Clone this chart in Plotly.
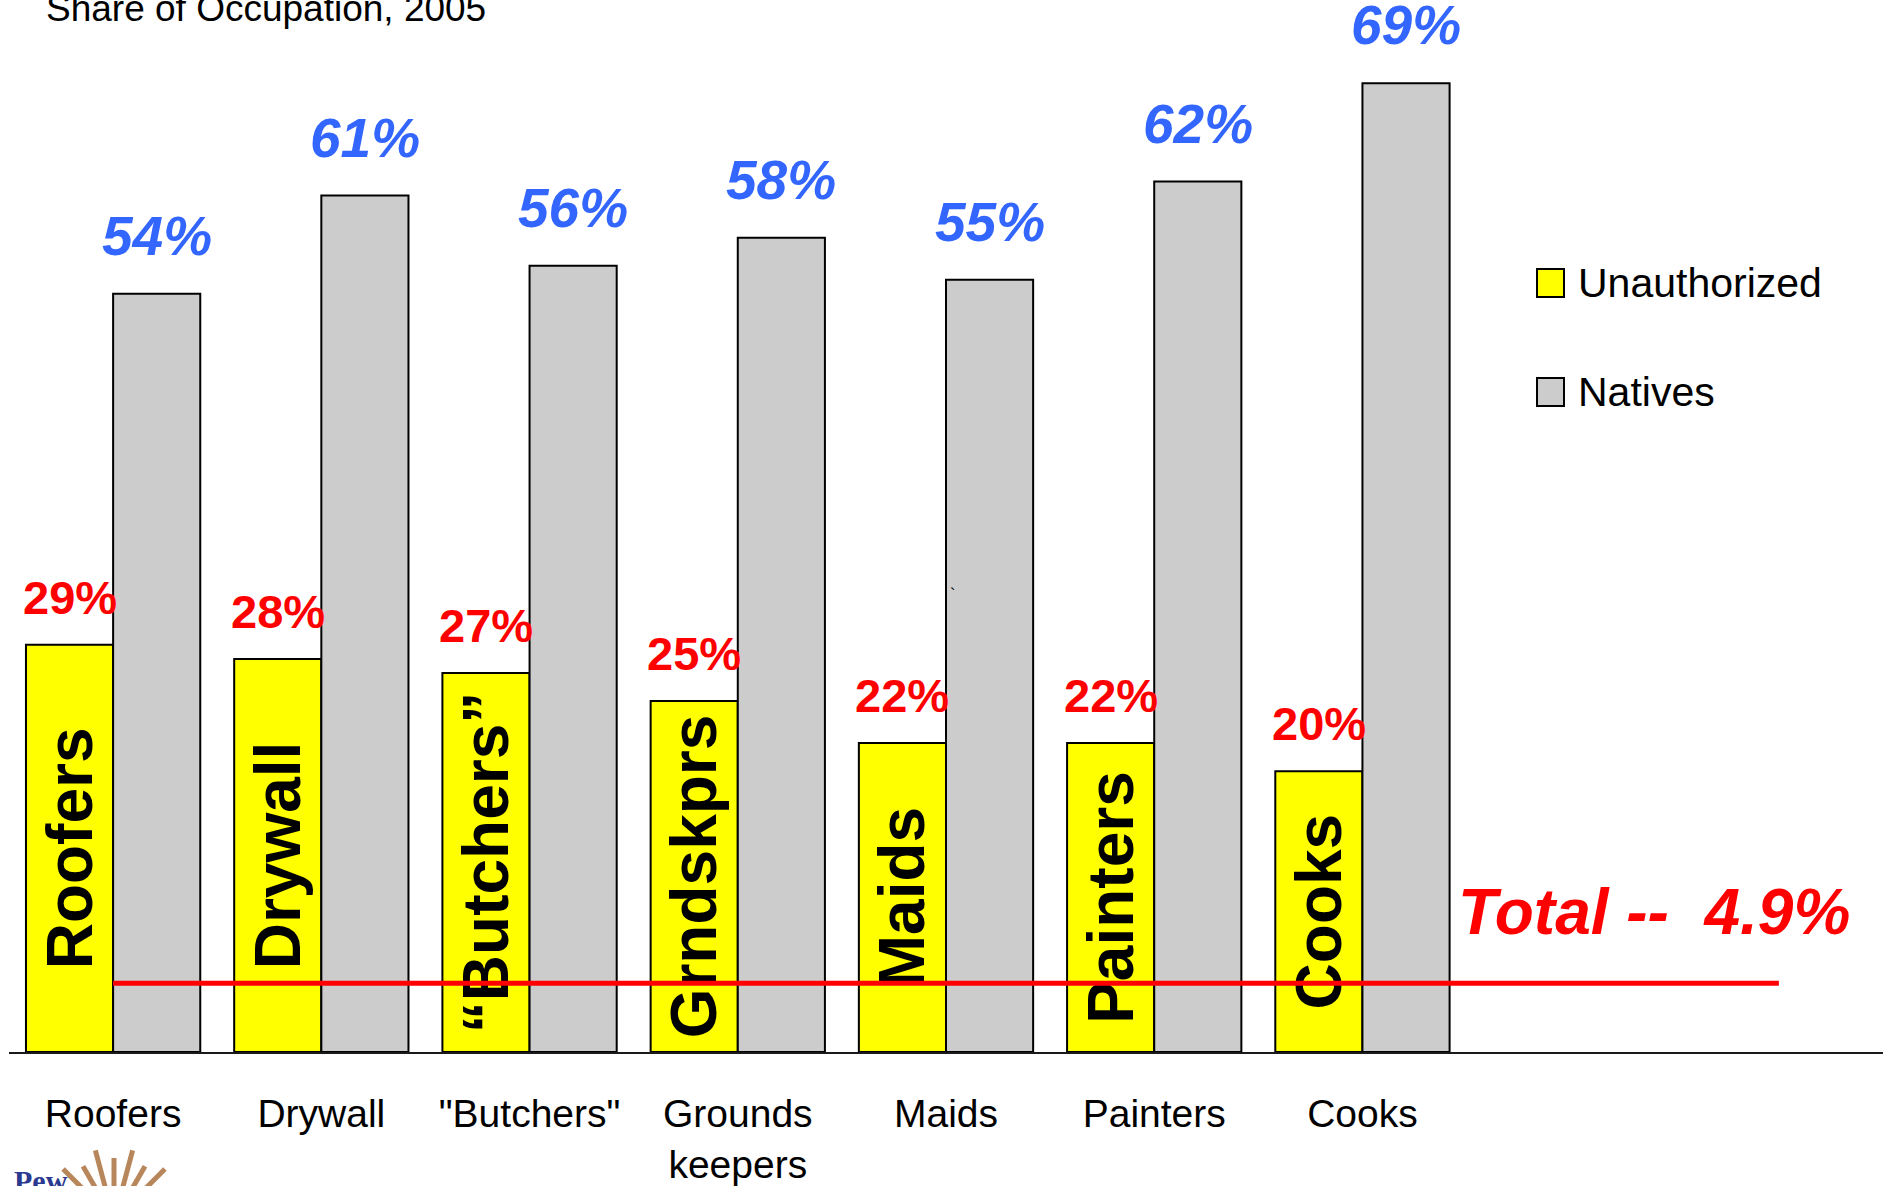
import math
import plotly.graph_objects as go

# ---------------- data ----------------
categories = ["Roofers", "Drywall", "\"Butchers\"", "Grounds<br>keepers", "Maids", "Painters", "Cooks"]
bar_labels = ["Roofers", "Drywall", "\u201cButchers\u201d", "Grndskprs", "Maids", "Painters", "Cooks"]
unauthorized = [29, 28, 27, 25, 22, 22, 20]
natives = [54, 61, 56, 58, 55, 62, 69]
total_unauthorized = 4.9
series_names = ["Unauthorized", "Natives"]
title_text = "Share of Occupation, 2005"

# ---------------- layout constants ----------------
W, H = 1883, 1186
ML, MR, MT, MB = 9, 0, 0, 134
PX_PER_PCT = 14.04
plot_w = W - ML - MR
plot_h = H - MT - MB
y_max = plot_h / PX_PER_PCT
x_range = [-0.5, 8.5]
BARGAP = 0.163
HALF = (1 - BARGAP) / 4

FONT = "Arial, Liberation Sans, sans-serif"
YELLOW = "#FFFF00"
GRAY = "#CCCCCC"
RED = "#FF0000"
BLUE = "#3366FF"


def px_x(px):
    return (px - ML) / plot_w


def px_y(py):
    return (H - MB - py) / plot_h


xs = list(range(len(categories)))

fig = go.Figure()
fig.add_trace(go.Bar(
    x=xs, y=unauthorized, name=series_names[0],
    marker=dict(color=YELLOW, line=dict(color="black", width=2)),
    text=bar_labels, textposition="inside", textangle=-90,
    insidetextanchor="middle",
    insidetextfont=dict(family=FONT, size=64, color="black", weight="bold"),
    showlegend=False, hoverinfo="skip",
))
fig.add_trace(go.Bar(
    x=xs, y=natives, name=series_names[1],
    marker=dict(color=GRAY, line=dict(color="black", width=2)),
    showlegend=False, hoverinfo="skip",
))

annotations = []
for i, v in enumerate(unauthorized):
    annotations.append(dict(
        x=i - HALF, y=v, xref="x", yref="y", text=f"{v}%", showarrow=False,
        xanchor="center", yanchor="bottom", yshift=19,
        font=dict(family=FONT, size=47, color=RED, weight="bold"),
    ))
for i, v in enumerate(natives):
    annotations.append(dict(
        x=i + HALF, y=v, xref="x", yref="y", text=f"<i>{v}%</i>", showarrow=False,
        xanchor="center", yanchor="bottom", yshift=25,
        font=dict(family=FONT, size=55, color=BLUE, weight="bold"),
    ))

# total line label
annotations.append(dict(
    x=7.40, y=total_unauthorized, xref="x", yref="y",
    text=f"<i>Total --\u00a0 {total_unauthorized}%</i>", showarrow=False,
    xanchor="center", yanchor="bottom", yshift=33,
    font=dict(family=FONT, size=64, color=RED, weight="bold"),
))

# title (partially cut at top, as in the source)
annotations.append(dict(
    x=px_x(44), y=px_y(31), xref="paper", yref="paper", text=title_text,
    showarrow=False, xanchor="left", yanchor="bottom",
    font=dict(family=FONT, size=37, color="black"),
))

# manual legend
shapes = []
legend_rows = [(series_names[0], YELLOW, 283), (series_names[1], GRAY, 392)]
for name, col, cy in legend_rows:
    shapes.append(dict(
        type="rect", xref="paper", yref="paper",
        x0=px_x(1537), x1=px_x(1564), y0=px_y(cy - 14), y1=px_y(cy + 14),
        fillcolor=col, line=dict(color="black", width=2), layer="above",
    ))
    annotations.append(dict(
        x=px_x(1576), y=px_y(cy), xref="paper", yref="paper", text=name,
        showarrow=False, xanchor="left", yanchor="middle",
        font=dict(family=FONT, size=41, color="black"),
    ))

# stray tick mark inside Maids bar
annotations.append(dict(
    x=px_x(952), y=px_y(594), xref="paper", yref="paper", text="`",
    showarrow=False, xanchor="center", yanchor="middle",
    font=dict(family=FONT, size=16, color="black"),
))

# logo fragment (bottom-left)
annotations.append(dict(
    x=px_x(12), y=px_y(1162), xref="paper", yref="paper", text="<b>Pew</b>",
    showarrow=False, xanchor="left", yanchor="top",
    font=dict(family="Liberation Serif, serif", size=30, color="#2B3990"),
))
cx, cy0 = 114, 1220
shapes.append(dict(
    type="circle", xref="paper", yref="paper",
    x0=px_x(cx - 28), x1=px_x(cx + 28), y0=px_y(cy0 + 28), y1=px_y(cy0 - 28),
    line=dict(color="#C9A17E", width=3), layer="above",
))
for k in range(11):
    ang = math.radians(15 + k * 15)
    r0 = 34
    r1 = 72 if k % 2 == 0 else 62
    shapes.append(dict(
        type="line", xref="paper", yref="paper",
        x0=px_x(cx + r0 * math.cos(ang)), y0=px_y(cy0 - r0 * math.sin(ang)),
        x1=px_x(cx + r1 * math.cos(ang)), y1=px_y(cy0 - r1 * math.sin(ang)),
        line=dict(color="#B8865B", width=5), layer="above",
    ))

# total line
shapes.append(dict(
    type="line", xref="x", yref="y", x0=0, x1=8,
    y0=total_unauthorized, y1=total_unauthorized,
    line=dict(color=RED, width=5), layer="above",
))

fig.update_layout(
    width=W, height=H,
    margin=dict(l=ML, r=MR, t=MT, b=MB, pad=0, autoexpand=False),
    paper_bgcolor="white", plot_bgcolor="white",
    barmode="group", bargap=BARGAP, bargroupgap=0,
    showlegend=False,
    annotations=annotations, shapes=shapes,
    xaxis=dict(
        range=x_range, tickvals=xs, ticktext=categories,
        showgrid=False, zeroline=False, showline=True,
        linecolor="#1A1A1A", linewidth=2, ticks="",
        tickfont=dict(family=FONT, size=39, color="black"),
        ticklabelstandoff=26, fixedrange=True, automargin=False,
    ),
    yaxis=dict(range=[0, y_max], visible=False, showgrid=False,
               zeroline=False, fixedrange=True, automargin=False),
)

fig.write_html(
    "out.html",
    config={"displayModeBar": False},
    post_script="document.body.style.margin='0';document.body.style.overflow='hidden';",
)
